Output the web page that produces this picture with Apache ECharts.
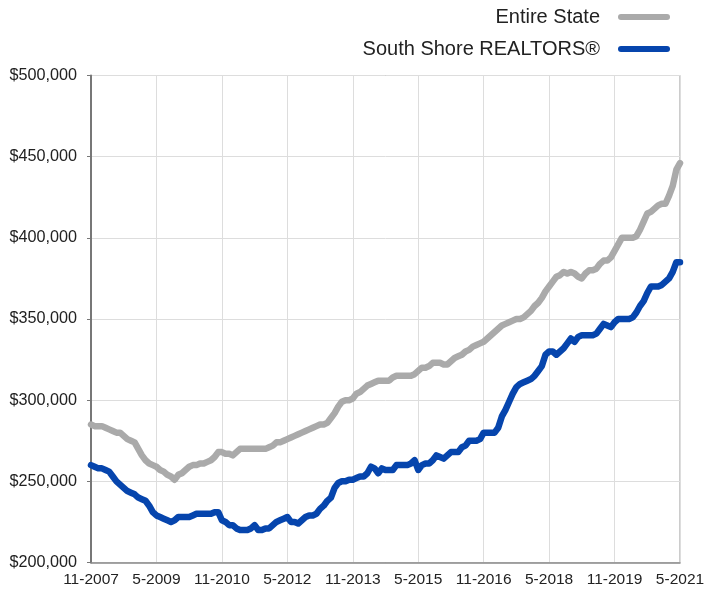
<!DOCTYPE html>
<html>
<head>
<meta charset="utf-8">
<script src="https://cdn.jsdelivr.net/npm/echarts@6/dist/echarts.min.js"></script>
<style>
  html, body { margin: 0; padding: 0; background: #fff; }
  #chart { width: 717px; height: 590px; }
</style>
</head>
<body>
<div id="chart"></div>
<script>
// monthly median price, 11-2007 .. 5-2021 (thousands of dollars)
const entireState = [
  285, 284, 284, 284, 283, 282, 281, 280, 280, 278, 276, 275, 274, 270, 266, 263, 261, 260, 259, 257,
  256, 254, 253, 251, 254, 255, 257, 259, 260, 260, 261, 261, 262, 263, 265, 268, 268, 267, 267, 266,
  268, 270, 270, 270, 270, 270, 270, 270, 270, 271, 272, 274, 274, 275, 276, 277, 278, 279, 280, 281,
  282, 283, 284, 285, 285, 286, 289, 292, 296, 299, 300, 300, 301, 304, 305, 307, 309, 310, 311, 312,
  312, 312, 312, 314, 315, 315, 315, 315, 315, 316, 318, 320, 320, 321, 323, 323, 323, 322, 322, 324,
  326, 327, 328, 330, 331, 333, 334, 335, 336, 338, 340, 342, 344, 346, 347, 348, 349, 350, 350, 351,
  353, 355, 358, 360, 363, 367, 370, 373, 376, 377, 379, 378, 379, 378, 376, 375, 378, 380, 380, 381,
  384, 386, 386, 388, 392, 396, 400, 400, 400, 400, 401, 405, 410, 415, 416, 418, 420, 421, 421, 426,
  432, 442, 446
];
const southShore = [
  260, 259, 258, 258, 257, 256, 253, 250, 248, 246, 244, 243, 242, 240, 239, 238, 235, 231, 229, 228,
  227, 226, 225, 226, 228, 228, 228, 228, 229, 230, 230, 230, 230, 230, 231, 231, 226, 225, 223, 223,
  221, 220, 220, 220, 221, 223, 220, 220, 221, 221, 223, 225, 226, 227, 228, 225, 225, 224, 226, 228,
  229, 229, 230, 233, 235, 238, 240, 246, 249, 250, 250, 251, 251, 252, 253, 253, 255, 259, 258, 255,
  258, 257, 257, 257, 260, 260, 260, 260, 261, 263, 257, 260, 261, 261, 263, 266, 265, 264, 266, 268,
  268, 268, 271, 272, 275, 275, 275, 276, 280, 280, 280, 280, 283, 290, 294, 299, 304, 308, 310, 311,
  312, 313, 315, 318, 321, 328, 330, 330, 328, 330, 332, 335, 338, 336, 339, 340, 340, 340, 340, 341,
  344, 347, 346, 345, 348, 350, 350, 350, 350, 351, 354, 358, 361, 366, 370, 370, 370, 371, 373, 375,
  379, 385, 385
];

// month labels "M-YYYY" starting 11-2007
const months = [];
for (let k = 0; k < entireState.length; k++) {
  const m = (10 + k) % 12 + 1;
  const y = 2007 + Math.floor((10 + k) / 12);
  months.push(m + '-' + y);
}

const chart = echarts.init(document.getElementById('chart'));
const font = 'Liberation Sans, Arial, Helvetica, sans-serif';
const capsule = 'path://M3,0 L49,0 A3,3 0 0 1 49,6 L3,6 A3,3 0 0 1 3,0 Z';

chart.setOption({
  animation: false,
  textStyle: { fontFamily: font },
  legend: {
    orient: 'vertical',
    right: 42,
    top: 2,
    align: 'right',
    itemWidth: 52,
    itemHeight: 7,
    itemGap: 12,
    textStyle: { fontSize: 20, color: '#222', lineHeight: 20, padding: [0, 13, 0, 0] },
    data: [
      { name: 'Entire State', icon: capsule },
      { name: 'South Shore REALTORS®', icon: capsule }
    ]
  },
  grid: {
    left: 91, right: 37, top: 75.5, bottom: 27.5,
    show: true, borderColor: '#999', borderWidth: 1
  },
  xAxis: {
    type: 'category',
    data: months,
    boundaryGap: false,
    axisLine: { lineStyle: { color: '#888', width: 1.5 } },
    axisTick: { show: false },
    axisLabel: { interval: 17, fontSize: 15.5, color: '#222', margin: 9, showMaxLabel: true },
    splitLine: { show: true, interval: 17, lineStyle: { color: '#ddd', width: 1 } }
  },
  yAxis: {
    type: 'value',
    min: 200, max: 500, interval: 50,
    axisLine: { show: true, lineStyle: { color: '#777', width: 2 } },
    axisTick: { show: true, length: 4, lineStyle: { color: '#777' } },
    axisLabel: {
      fontSize: 16.2, color: '#222', margin: 14,
      formatter: v => '$' + (v * 1000).toLocaleString('en-US')
    },
    splitLine: { lineStyle: { color: '#ddd', width: 1 } }
  },
  series: [
    {
      name: 'Entire State', type: 'line', data: entireState,
      showSymbol: false, symbol: 'none',
      itemStyle: { color: '#aaaaaa' },
      lineStyle: { color: '#aaaaaa', width: 6.5, cap: 'round', join: 'round' }
    },
    {
      name: 'South Shore REALTORS®', type: 'line', data: southShore,
      showSymbol: false, symbol: 'none',
      itemStyle: { color: '#0645ad' },
      lineStyle: { color: '#0645ad', width: 6.5, cap: 'round', join: 'round' }
    }
  ]
});
</script>
</body>
</html>
